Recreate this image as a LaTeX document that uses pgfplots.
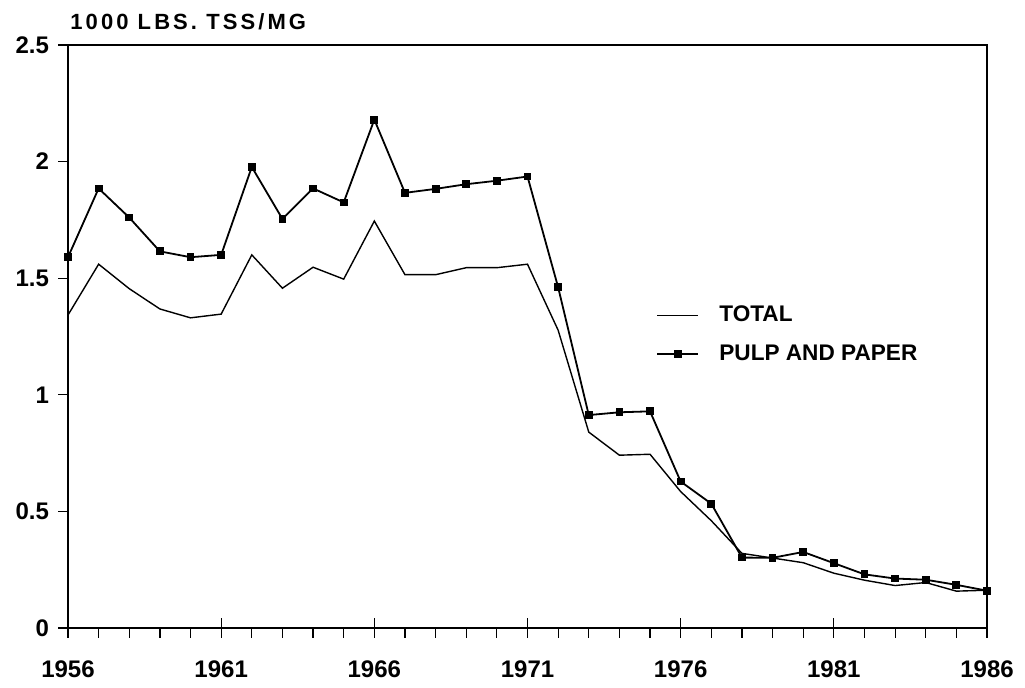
\documentclass[border=0pt]{standalone}
\usepackage{fontspec}
\setmainfont{Liberation Sans}
\newfontfamily\titlefont[LetterSpace=14]{Liberation Sans}
\usepackage{pgfplots}
\pgfplotsset{compat=1.18}
\usetikzlibrary{calc}
\pgfplotstableread{
year total
1956 1.342
1957 1.560
1958 1.455
1959 1.368
1960 1.330
1961 1.346
1962 1.600
1963 1.457
1964 1.547
1965 1.496
1966 1.745
1967 1.515
1968 1.515
1969 1.545
1970 1.545
1971 1.560
1972 1.277
1973 0.840
1974 0.741
1975 0.745
1976 0.585
1977 0.460
1978 0.320
1979 0.300
1980 0.280
1981 0.235
1982 0.205
1983 0.182
1984 0.195
1985 0.158
1986 0.162
}\totaltab
\pgfplotstableread{
year pulp
1956 1.590
1957 1.885
1958 1.760
1959 1.615
1960 1.590
1961 1.600
1962 1.977
1963 1.754
1964 1.885
1965 1.825
1966 2.180
1967 1.866
1968 1.883
1969 1.903
1970 1.918
1971 1.936
1972 1.461
1973 0.913
1974 0.925
1975 0.929
1976 0.628
1977 0.533
1978 0.302
1979 0.301
1980 0.326
1981 0.278
1982 0.230
1983 0.212
1984 0.207
1985 0.185
1986 0.160
}\pulptab
\begin{document}
\begin{tikzpicture}
\begin{axis}[
  scale only axis, width=459.5pt, height=291.5pt,
  xmin=1956, xmax=1986, ymin=0, ymax=2.5,
  axis line style={line width=0.75pt},
  xtick={1956,1961,1966,1971,1976,1981,1986},
  xticklabels={1956,1961,1966,1971,1976,1981,1986},
  minor x tick num=4,
  xtick pos=bottom, ytick pos=left,
  tick align=outside,
  major tick length=5pt, minor tick length=5pt,
  tick style={line width=0.6pt, black},
  ytick={0,0.5,1,1.5,2,2.5},
  yticklabels={0,0.5,1,1.5,2,2.5},
  tick label style={font=\fontsize{12}{14}\selectfont\bfseries},
  /pgf/number format/assume math mode=true,
  xticklabel style={yshift=-8pt},
  yticklabel style={xshift=-1pt},
  clip=false,
  legend style={at={(rel axis cs:0.640,0.553)}, anchor=north west, draw=none, fill=none,
    inner sep=0pt, font=\fontsize{11.3}{13}\selectfont\bfseries, row sep=10pt,
    nodes={inner sep=0pt}, /tikz/every odd column/.append style={column sep=10pt}},
  legend cell align=left,
  legend image code/.code={\draw[mark repeat=2,mark phase=2,#1] plot coordinates {(0pt,0pt) (10.25pt,0pt) (20.5pt,0pt)};},
]
\addplot[black, line width=0.7pt, no marks] table[x=year,y=total] {\totaltab};
\addlegendentry{TOTAL}
\addplot[black, line width=0.9pt, mark=square*, mark size=1.5pt, mark options={solid}] table[x=year,y=pulp] {\pulptab};
\addlegendentry{PULP AND PAPER}
\node[anchor=base west, inner sep=0pt, font=\titlefont\fontsize{11}{13}\selectfont\bfseries, xshift=1pt, yshift=7.5pt] at (rel axis cs:0,1) {1000 LBS. TSS/MG};
\coordinate (sw) at (rel axis cs:0,0);
\coordinate (ne) at (rel axis cs:1,1);
\end{axis}
\begin{axis}[
  scale only axis, width=459.5pt, height=291.5pt,
  xmin=1956, xmax=1986, ymin=0, ymax=2.5,
  axis line style={draw=none},
  xtick={1956,1961,1966,1971,1976,1981,1986},
  xticklabels={},
  minor x tick num=0,
  xtick pos=bottom,
  ytick=\empty,
  tick align=inside,
  major tick length=5pt,
  tick style={line width=0.6pt, black},
]
\end{axis}
\pgfresetboundingbox
\path ($(sw)+(-34pt,-30pt)$) rectangle ($(ne)+(19pt,22.5pt)$);
\end{tikzpicture}
\end{document}
